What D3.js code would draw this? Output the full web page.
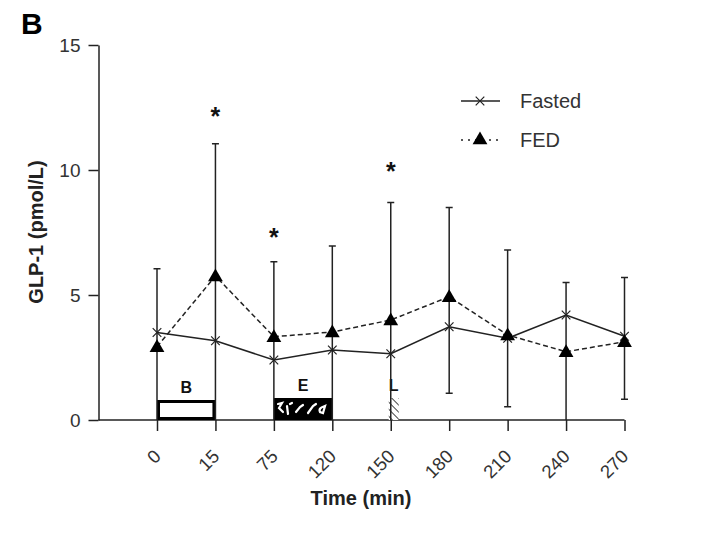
<!DOCTYPE html>
<html>
<head>
<meta charset="utf-8">
<script src="https://cdn.jsdelivr.net/npm/d3@7"></script>
<style>
  html, body { margin: 0; padding: 0; background: #fff; }
  svg { display: block; font-family: "Liberation Sans", Arial, sans-serif; }
</style>
</head>
<body>
<svg id="chart" width="713" height="555"></svg>
<script>
// ---- data ----
const categories = ['0', '15', '75', '120', '150', '180', '210', '240', '270'];
const fasted = [3.5, 3.17, 2.4, 2.8, 2.65, 3.73, 3.27, 4.2, 3.35];
const fed = [2.93, 5.76, 3.33, 3.52, 4.0, 4.93, 3.4, 2.73, 3.13];
const errHigh = [6.05, 11.05, 6.33, 6.96, 8.7, 8.5, 6.8, 5.5, 5.7];
const errLow = [0, 0, 0, 0, 0, 1.07, 0.53, 0, 0.83];
const sigCats = ['15', '75', '150'];
const sigValues = [12.3, 7.45, 10.1];
const yTicks = [0, 5, 10, 15];
const mealLabels = ['B', 'E', 'L'];
const mealStart = ['0', '75', '150'];
const mealEnd = ['15', '120', null];
const mealHeight = [0.8, 0.88, 0.88];
const seriesNames = ['Fasted', 'FED'];

// ---- layout ----
const svg = d3.select('#chart');
const x = d3.scalePoint().domain(categories).range([157, 624.5]);
const y = d3.scaleLinear().domain([0, 15]).range([420, 45]);
const axisLeftX = 98.5;
const ink = '#222';

// patterns
const defs = svg.append('defs');
const hatch = defs.append('pattern').attr('id', 'hatch').attr('patternUnits', 'userSpaceOnUse')
  .attr('width', 5).attr('height', 5).attr('patternTransform', 'rotate(-45)');
hatch.append('rect').attr('width', 5).attr('height', 5).attr('fill', '#fff');
hatch.append('line').attr('x1', 0).attr('y1', 0).attr('x2', 0).attr('y2', 5)
  .attr('stroke', '#444').attr('stroke-width', 2);

const blob = defs.append('pattern').attr('id', 'blob').attr('patternUnits', 'userSpaceOnUse')
  .attr('width', 58).attr('height', 22).attr('x', 273).attr('y', 398);
blob.append('rect').attr('width', 58).attr('height', 22).attr('fill', '#000');
blob.append('path').attr('d', 'M5,6 L9,5 L6,10 L10,14 M14,8 L15,16 M17,6 L19,5 M23,14 L27,9 L30,7 M35,15 L40,8 L43,6 M47,14 C45,10 50,9 52,8 L50,15 Z')
  .attr('fill', 'none').attr('stroke', '#fff').attr('stroke-width', 2.2).attr('stroke-linecap', 'round');

// ---- axes ----
const yAxis = svg.append('g').attr('transform', `translate(${axisLeftX},0)`)
  .call(d3.axisLeft(y).tickValues(yTicks).tickSize(10).tickPadding(8).tickSizeOuter(0));
yAxis.select('.domain').attr('stroke', ink).attr('stroke-width', 1.5);
yAxis.selectAll('.tick line').attr('stroke', ink).attr('stroke-width', 1.5);
yAxis.selectAll('.tick text').attr('font-size', 19).attr('fill', '#333')
  .attr('font-family', '"Liberation Sans", Arial, sans-serif');

const xAxis = svg.append('g').attr('transform', `translate(0,${y(0)})`)
  .call(d3.axisBottom(x).tickSize(11).tickSizeOuter(0).tickFormat(d => d));
xAxis.select('.domain').remove();
xAxis.append('line').attr('x1', axisLeftX).attr('x2', x('270')).attr('y1', 0).attr('y2', 0)
  .attr('stroke', ink).attr('stroke-width', 1.5);
xAxis.selectAll('.tick line').attr('stroke', ink).attr('stroke-width', 1.5);
xAxis.selectAll('.tick text')
  .attr('font-size', 18.5).attr('fill', '#333')
  .attr('font-family', '"Liberation Sans", Arial, sans-serif')
  .attr('text-anchor', 'end')
  .attr('transform', 'translate(0,33) rotate(-45)')
  .attr('dy', '0.35em').attr('y', 0);

// axis titles
svg.append('text').attr('x', 361).attr('y', 505).attr('text-anchor', 'middle')
  .attr('font-size', 20).attr('font-weight', 'bold').attr('fill', ink).text('Time (min)');
svg.append('text').attr('transform', 'translate(43,232) rotate(-90)').attr('text-anchor', 'middle')
  .attr('font-size', 20).attr('font-weight', 'bold').attr('fill', ink).text('GLP-1 (pmol/L)');
svg.append('text').attr('x', 21).attr('y', 34).attr('font-size', 30).attr('font-weight', 'bold')
  .attr('fill', '#000').text('B');

// ---- meal boxes ----
const meals = svg.append('g');
mealLabels.forEach((lab, i) => {
  const x0 = x(mealStart[i]);
  const x1 = mealEnd[i] ? x(mealEnd[i]) : x0 + 8;
  const top = y(mealHeight[i]);
  if (i === 0) {
    meals.append('rect').attr('x', x0 + 1.5).attr('y', top + 1.5).attr('width', x1 - x0 - 3)
      .attr('height', y(0) - top - 3).attr('fill', '#fff').attr('stroke', '#000').attr('stroke-width', 3);
  } else if (i === 1) {
    meals.append('rect').attr('x', x0).attr('y', top).attr('width', x1 - x0)
      .attr('height', y(0) - top).attr('fill', 'url(#blob)');
  } else {
    meals.append('rect').attr('x', x0 - 2).attr('y', top).attr('width', x1 - x0 + 2)
      .attr('height', y(0) - top).attr('fill', 'url(#hatch)');
  }
  meals.append('text').attr('x', i === 2 ? x0 + 3 : (x0 + x1) / 2).attr('y', top - 7)
    .attr('text-anchor', 'middle').attr('font-size', 16).attr('font-weight', 'bold')
    .attr('fill', '#111').text(lab);
});

// ---- error bars ----
const eb = svg.append('g').attr('stroke', ink).attr('stroke-width', 1.5);
categories.forEach((c, i) => {
  eb.append('line').attr('x1', x(c)).attr('x2', x(c)).attr('y1', y(errHigh[i])).attr('y2', y(errLow[i]));
  eb.append('line').attr('x1', x(c) - 3.5).attr('x2', x(c) + 3.5).attr('y1', y(errHigh[i])).attr('y2', y(errHigh[i]));
  if (errLow[i] > 0) {
    eb.append('line').attr('x1', x(c) - 3.5).attr('x2', x(c) + 3.5).attr('y1', y(errLow[i])).attr('y2', y(errLow[i]));
  }
});

// ---- lines ----
const lineGen = d3.line().x((d, i) => x(categories[i])).y(d => y(d));
svg.append('path').datum(fed).attr('d', lineGen).attr('fill', 'none')
  .attr('stroke', ink).attr('stroke-width', 1.5).attr('stroke-dasharray', '5,3');
svg.append('path').datum(fasted).attr('d', lineGen).attr('fill', 'none')
  .attr('stroke', ink).attr('stroke-width', 1.5);

// markers
const cross = d3.symbol().type(d3.symbolX).size(50);
svg.append('g').selectAll('path').data(fasted).join('path')
  .attr('d', cross).attr('transform', (d, i) => `translate(${x(categories[i])},${y(d)})`)
  .attr('fill', 'none').attr('stroke', ink).attr('stroke-width', 1.2);
const tri = d3.symbol().type(d3.symbolTriangle).size(95);
svg.append('g').selectAll('path').data(fed).join('path')
  .attr('d', tri).attr('transform', (d, i) => `translate(${x(categories[i])},${y(d) + 1})`)
  .attr('fill', '#000');

// significance stars
svg.append('g').selectAll('text').data(sigCats).join('text')
  .attr('x', d => x(d)).attr('y', (d, i) => y(sigValues[i]) + 12)
  .attr('text-anchor', 'middle').attr('font-size', 25).attr('font-weight', 'bold')
  .attr('fill', '#111').text('*');

// ---- legend ----
const lg = svg.append('g');
lg.append('line').attr('x1', 461).attr('x2', 500).attr('y1', 101).attr('y2', 101)
  .attr('stroke', ink).attr('stroke-width', 1.5);
lg.append('path').attr('d', cross).attr('transform', 'translate(480,101)')
  .attr('fill', 'none').attr('stroke', ink).attr('stroke-width', 1.2);
lg.append('line').attr('x1', 461).attr('x2', 500).attr('y1', 140).attr('y2', 140)
  .attr('stroke', ink).attr('stroke-width', 1.5).attr('stroke-dasharray', '2,5');
lg.append('path').attr('d', tri).attr('transform', 'translate(480,140)').attr('fill', '#000');
lg.selectAll('text.lt').data(seriesNames).join('text').attr('class', 'lt')
  .attr('x', 520).attr('y', (d, i) => 108 + i * 39)
  .attr('font-size', 20).attr('fill', '#333').text(d => d);
</script>
</body>
</html>
